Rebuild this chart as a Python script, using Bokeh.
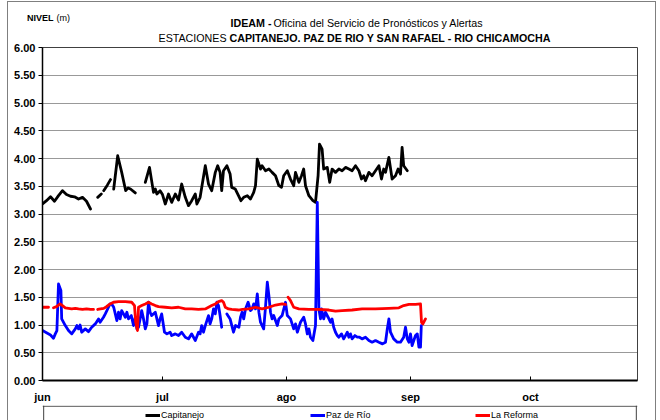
import pandas as pd
from bokeh.plotting import figure
from bokeh.models import (Range1d, FixedTicker, Label, Legend, LegendItem,
                          Span, NumeralTickFormatter)
from bokeh.layouts import column
from bokeh.embed import file_html
from bokeh.resources import INLINE

nan = float("nan")

# ---------------- data (day offsets from 1 June, level in m) ----------------
cap_day = [0, 1, 2, 3, 4, 5, 6, 7, 8, 9, 10, 11, 12, 12.5,
           13.8, 14.7, 15.0,
           15.3, 16.2, 17.0, 17.4,
           17.8, 18.8, 19.8, 20.8, 21.4, 22.0, 23.2, 24.5,
           25.7, 26.75, 27.75, 28.2, 28.6, 29.4, 30.0, 30.7, 31.5, 32.3, 33.2, 34.0,
           34.8, 35.7, 36.5, 37.3, 38.2, 38.6, 39.4, 40.7, 41.5, 42.3, 43.2, 43.8,
           44.4, 44.8, 45.25, 46.1, 46.9, 47.3, 48.2, 49.0, 49.6, 50.3, 51.2, 52.0,
           52.8, 53.25, 53.7, 54.5, 54.9, 55.75, 56.6, 57.4, 58.25, 59.1, 59.75,
           60.3, 61.2, 62.0, 62.8, 63.25, 64.1, 64.75, 65.3, 65.75, 66.6, 67.6,
           68.25, 68.9, 69.25, 69.9, 70.3, 71.2, 71.8, 72.4, 73.25, 74.1, 74.9,
           75.75, 76.6, 77.4, 78.25, 79.1, 79.75, 80.3, 80.75, 81.6, 82.4, 83.25,
           84.1, 84.75, 85.3, 85.75, 86.6, 87.4, 88.25, 88.9, 89.5, 89.9, 90.3, 91.2]
cap_val = [3.18, 3.24, 3.31, 3.23, 3.33, 3.42, 3.35, 3.32, 3.31, 3.27, 3.30, 3.23, 3.09, nan,
           3.30, 3.36, nan,
           3.42, 3.52, 3.62, nan,
           3.45, 4.05, 3.75, 3.42, 3.47, 3.45, 3.38, nan,
           3.57, 3.84, 3.39, 3.45, 3.36, 3.42, 3.35, 3.18, 3.36, 3.21, 3.36, 3.25,
           3.54, 3.30, 3.15, 3.24, 3.36, 3.18, 3.30, 3.87, 3.54, 3.42, 3.75, 3.87,
           3.75, 3.42, 3.78, 3.87, 3.72, 3.48, 3.45, 3.33, 3.24, 3.30, 3.33, 3.27,
           3.39, 3.51, 3.99, 3.81, 3.87, 3.78, 3.81, 3.75, 3.69, 3.51, 3.48,
           3.69, 3.78, 3.63, 3.51, 3.75, 3.57, 3.69, 3.81, 3.51, 3.33, 3.24,
           3.21, 3.69, 4.26, 4.17, 3.81, 3.84, 3.57, 3.81, 3.75, 3.81, 3.78,
           3.84, 3.81, 3.78, 3.87, 3.78, 3.63, 3.69, 3.60, 3.75, 3.69, 3.78,
           3.87, 3.63, 3.81, 3.75, 4.02, 3.63, 3.69, 3.81, 3.72, 4.20, 3.87, 3.78]

paz_day = [0, 1, 2, 2.75, 3.2, 3.6, 4.0, 4.6, 4.8, 5.7, 6.5, 7.3, 8.2, 8.6, 9.0,
           9.4, 9.8, 10.7, 11.5, 12.3, 13.2, 14.0, 14.4, 15.25, 15.7, 16.5, 16.9,
           17.3, 17.8, 18.6, 19.0, 19.4, 19.8, 20.25, 20.7, 21.1, 21.5, 22.2, 22.75,
           23.2, 23.6, 24.0, 24.4, 24.8, 25.25, 25.7, 26.1, 26.5, 26.9, 27.3, 28.2,
           28.6, 29.0, 29.4, 29.8, 30.5, 31.1, 31.9, 32.3, 33.2, 34.0, 34.8, 35.7,
           36.5, 37.3, 38.2, 39.0, 39.4, 39.8, 40.25, 40.7, 41.5, 41.9, 42.3, 42.75,
           43.2, 43.6, 44.0, 44.4, 44.8, 45.4,
           46.1, 46.9, 47.75, 48.25, 49.1, 49.5, 49.9, 50.3, 50.75, 51.4, 52.0,
           52.4, 52.8, 53.25, 53.7, 54.1, 54.5, 54.9, 55.3, 55.75, 56.2, 56.6, 57.0,
           57.4, 57.8, 58.7, 59.1, 59.9, 60.75, 61.2, 62.0, 62.8, 63.25, 63.7, 64.5,
           65.3, 65.75, 66.2, 66.6, 67.0, 67.6, 68.25, 68.7, 69.1, 69.5, 69.75, 70.1,
           70.3, 70.75, 71.4, 72.0, 72.4, 72.8, 73.25, 73.7, 74.1, 74.75, 75.3, 75.75,
           76.2, 76.6, 77.0, 77.4, 78.1, 78.7, 79.25, 79.9, 80.75, 81.6, 82.4, 83.25,
           84.1, 85.0, 85.75, 86.2, 86.6, 87.0, 87.8, 88.7, 89.5, 90.3, 90.75, 91.2,
           91.6, 92.0, 92.4, 93.25, 93.7, 94.1, 94.5, 94.7]
paz_val = [0.90, 0.86, 0.82, 0.76, 0.84, 0.90, 1.74, 1.62, 1.11, 0.99, 0.90, 0.84, 0.93, 0.99, 0.93,
           1.00, 0.87, 0.93, 0.88, 0.96, 1.02, 1.11, 1.05, 1.14, 1.20, 1.32, 1.38,
           1.38, 1.32, 1.08, 1.23, 1.11, 1.26, 1.20, 1.14, 1.23, 1.11, 1.17, 0.99,
           1.14, 0.93, 0.96, 1.11, 1.26, 1.11, 0.93, 1.02, 1.41, 1.23, 1.17, 1.23,
           1.11, 0.99, 1.11, 1.20, 0.87, 0.84, 0.87, 0.81, 0.84, 0.81, 0.87, 0.78,
           0.75, 0.84, 0.72, 0.87, 0.84, 0.99, 0.87, 0.99, 1.17, 1.02, 1.11, 1.29,
           1.20, 1.41, 1.35, 1.17, 0.96, nan,
           1.20, 1.11, 0.87, 0.99, 0.96, 1.14, 1.23, 1.11, 1.29, 1.41, 1.26,
           1.29, 1.38, 1.29, 1.56, 1.23, 1.05, 0.99, 0.93, 1.32, 1.77, 1.53, 1.23,
           1.11, 1.17, 0.99, 1.11, 1.17, 1.41, 1.17, 1.11, 0.93, 1.02, 0.87, 1.05,
           1.14, 1.02, 0.84, 0.93, 0.78, 0.72, 0.99, 3.21, 1.29, 1.11, 1.29, 1.17,
           1.11, 1.23, 1.14, 1.05, 1.11, 0.96, 0.87, 0.81, 0.78, 0.84, 0.75, 0.81,
           0.87, 0.78, 0.84, 0.75, 0.81, 0.78, 0.78, 0.75, 0.78, 0.72, 0.69, 0.72,
           0.69, 0.66, 0.69, 0.93, 1.11, 0.87, 0.75, 0.69, 0.69, 0.78, 0.96, 0.75,
           0.69, 0.84, 0.63, 0.81, 0.84, 0.60, 0.60, 0.99]

ref_day = [0, 1.5, 2.1,
           2.75, 3.5, 4.4, 5.0, 5.7, 6.5, 7.3, 8.2, 9.0, 10.0, 11.0, 12.0, 12.75, 13.2,
           13.8, 14.5, 15.3, 16.0, 16.9, 17.75, 19.0, 20.7, 22.3, 23.0, 23.3, 23.75,
           24.0, 24.8, 25.7, 26.5, 27.3, 28.2, 29.0, 30.7, 32.3, 34.0, 35.7, 37.3,
           39.0, 40.7, 41.5, 42.3, 43.2, 44.0, 44.8, 45.25, 45.7, 46.5, 47.3, 49.0,
           50.0, 51.6, 53.25, 54.9, 56.6, 58.25, 59.9, 60.75, 61.1,
           61.4, 62.0, 62.8, 64.1, 66.6, 69.1, 71.6, 73.25, 74.9, 77.4, 79.9, 83.25,
           86.6, 89.1, 90.3, 91.6, 93.25, 94.5, 94.75, 95.1, 95.75]
ref_val = [1.32, 1.32, nan,
           1.31, 1.33, 1.38, 1.35, 1.31, 1.30, 1.29, 1.30, 1.29, 1.28, 1.29, 1.28, 1.28, nan,
           1.28, 1.29, 1.30, 1.33, 1.38, 1.41, 1.42, 1.42, 1.41, 1.35, 1.05, 0.90,
           1.32, 1.35, 1.38, 1.41, 1.38, 1.35, 1.33, 1.32, 1.31, 1.32, 1.29, 1.29,
           1.28, 1.29, 1.32, 1.35, 1.38, 1.42, 1.44, 1.41, 1.32, 1.29, 1.28, 1.27,
           1.28, 1.29, 1.32, 1.29, 1.32, 1.36, 1.38, 1.37, nan,
           1.50, 1.44, 1.32, 1.29, 1.28, 1.28, 1.27, 1.25, 1.26, 1.27, 1.29, 1.29,
           1.30, 1.31, 1.35, 1.37, 1.37, 1.38, 1.05, 1.02, 1.11]

series_names = ["Capitanejo", "Paz de Río", "La Reforma"]
series_colors = ["#000000", "#0000FF", "#FF0000"]

month_starts = ["2010-06-01", "2010-07-01", "2010-08-01", "2010-09-01", "2010-10-01"]
month_labels = ["jun", "jul", "ago", "sep", "oct"]
y_ticks = [0, 0.5, 1, 1.5, 2, 2.5, 3, 3.5, 4, 4.5, 5, 5.5, 6]
x_end_day = 148.75

FONT = "Liberation Sans"
T_SIZE = "10.7px"
S_SIZE = "9px"
W = 647          # inner width (page x 8 .. 655)
FRAME_COLOR = "#7f7f7f"

# ---------------- header (titles) ----------------
hd = figure(width=W, height=40, x_range=Range1d(0, 1), y_range=Range1d(0, 40),
            output_backend="svg", toolbar_location=None,
            x_axis_location=None, y_axis_location="left",
            min_border_left=0, min_border_right=0, min_border_top=0, min_border_bottom=0)
hd.grid.visible = False
hd.outline_line_color = None
hd.background_fill_color = "white"
hd.border_fill_color = "white"
# "NIVEL" drawn as the header's single axis label (it sits left of the plot frame)
ha = hd.yaxis[0]
ha.ticker = FixedTicker(ticks=[25])
ha.major_label_overrides = {25: "NIVEL"}
ha.axis_line_color = None
ha.major_tick_line_color = None
ha.minor_tick_line_color = None
ha.major_tick_out = 0
ha.major_tick_in = 0
ha.major_label_standoff = -11
ha.major_label_text_font = FONT
ha.major_label_text_font_style = "bold"
ha.major_label_text_font_size = S_SIZE
ha.major_label_text_color = "black"


def lab(text, x, y, bold=False, size=T_SIZE):
    hd.add_layout(Label(x=x, y=y, x_units="screen", y_units="screen", text=text,
                        text_font=FONT, text_font_size=size,
                        text_font_style="bold" if bold else "normal",
                        text_baseline="middle", text_align="left", text_color="black"))


lab("IDEAM -", 188, 20, bold=True)
lab("Oficina del Servicio de Pronósticos y Alertas", 231, 20)
lab("ESTACIONES", 116, 5)
lab("CAPITANEJO, PAZ DE RIO Y SAN RAFAEL -  RIO CHICAMOCHA", 187, 5, bold=True)
lab("(m)", 14, 25, size=S_SIZE)

# ---------------- main chart ----------------
p = figure(width=W, height=363, x_range=Range1d(0, x_end_day), y_range=Range1d(0, 6),
           output_backend="svg", toolbar_location=None,
           min_border_left=34, min_border_right=18, min_border_top=5, min_border_bottom=25)
p.background_fill_color = "white"
p.border_fill_color = "white"
p.outline_line_color = "#404040"
p.outline_line_width = 1

start = pd.Timestamp(month_starts[0])
tick_days = [(pd.Timestamp(m) - start).days for m in month_starts]

p.xgrid.visible = False
p.ygrid.ticker = FixedTicker(ticks=y_ticks[1:-1])
p.ygrid.grid_line_color = "#333333"
p.ygrid.grid_line_dash = "1 1"
p.ygrid.grid_line_width = 1

xa = p.xaxis[0]
xa.ticker = FixedTicker(ticks=tick_days)
xa.major_label_overrides = {d: l for d, l in zip(tick_days, month_labels)}
xa.axis_line_color = "black"
xa.axis_line_width = 2
xa.major_tick_in = 4
xa.major_tick_out = 0
xa.major_tick_line_color = "black"
xa.minor_tick_line_color = None
xa.major_label_standoff = 10
xa.major_label_text_font = FONT
xa.major_label_text_font_style = "bold"
xa.major_label_text_font_size = "11px"
xa.major_label_text_color = "black"

ya = p.yaxis[0]
ya.ticker = FixedTicker(ticks=y_ticks)
ya.formatter = NumeralTickFormatter(format="0.00")
ya.axis_line_color = "black"
ya.axis_line_width = 1.5
ya.major_tick_in = 0
ya.major_tick_out = 4
ya.major_tick_line_color = "black"
ya.minor_tick_line_color = None
ya.major_label_standoff = 3
ya.major_label_text_font = FONT
ya.major_label_text_font_style = "bold"
ya.major_label_text_font_size = "11px"
ya.major_label_text_color = "black"

for d, v, c in [(cap_day, cap_val, series_colors[0]),
                (paz_day, paz_val, series_colors[1]),
                (ref_day, ref_val, series_colors[2])]:
    p.line(d, v, line_color=c, line_width=2.8, line_join="round", line_cap="round")

# ---------------- legend strip ----------------
lg = figure(width=W, height=15, x_range=Range1d(-0.002, 1.002), y_range=Range1d(0, 1.05),
            output_backend="svg", toolbar_location=None,
            x_axis_location=None, y_axis_location=None,
            min_border_left=34, min_border_right=18, min_border_top=0, min_border_bottom=0)
lg.grid.visible = False
lg.outline_line_color = None
lg.background_fill_color = "white"
lg.border_fill_color = "white"
for loc, dim in [(0, "height"), (1, "height"), (1, "width")]:
    lg.add_layout(Span(location=loc, dimension=dim, line_color="#404040", line_width=1))
items = []
for name, c in zip(series_names, series_colors):
    r = lg.line(x=[nan], y=[nan], line_color=c, line_width=3)
    items.append(LegendItem(label=name, renderers=[r]))
legend = Legend(items=items, orientation="horizontal", location=(103, 0),
                glyph_width=15, glyph_height=10, label_standoff=1, label_width=140,
                spacing=9, padding=0, margin=0, border_line_alpha=0,
                background_fill_alpha=0, label_text_font=FONT,
                label_text_font_size=S_SIZE, label_text_color="black")
lg.add_layout(legend)

layout = column(hd, p, lg, spacing=0,
                styles={"margin-left": "7px", "margin-top": "1px",
                        "border-left": "1px solid " + FRAME_COLOR,
                        "border-right": "1px solid " + FRAME_COLOR,
                        "border-top": "1px solid " + FRAME_COLOR})
open("out.html", "w").write(file_html(layout, INLINE))
